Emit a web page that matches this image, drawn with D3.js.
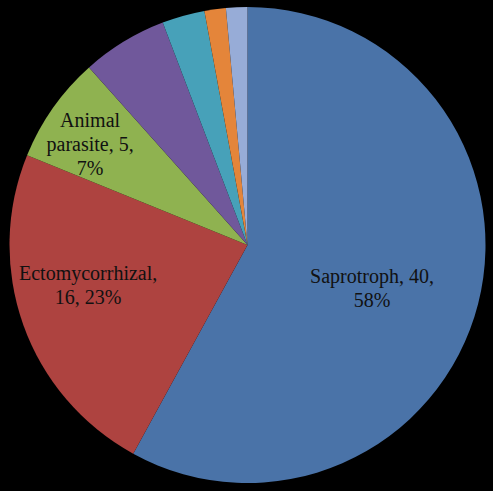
<!DOCTYPE html>
<html>
<head>
<meta charset="utf-8">
<script src="https://cdn.jsdelivr.net/npm/d3@7"></script>
<style>
  html, body { margin: 0; padding: 0; background: #000; }
  svg { display: block; }
</style>
</head>
<body>
<svg id="chart" width="493" height="491"></svg>
<script>
// Fungal trophic modes (counts)
const categories = ["Saprotroph", "Ectomycorrhizal", "Animal parasite", "Plant pathogen", "Lichenized", "Endophyte", "Mycoparasite"];
const values = [40, 16, 5, 4, 2, 1, 1];
const colors = ["#4a73a8", "#ae4340", "#8fb250", "#70589b", "#47a1b9", "#e4853a", "#97acd7"];
// Slice labels: which slices carry text, and how each is broken into lines
const labelLines = [
  ["Saprotroph, 40,", "58%"],
  ["Ectomycorrhizal,", "16, 23%"],
  ["Animal", "parasite, 5,", "7%"],
  null, null, null, null
];

const svg = d3.select("#chart");
const cx = 247.5, cy = 245, r = 238;

const data = categories.map((c, i) => ({ name: c, value: values[i], color: colors[i], lines: labelLines[i] }));

const pie = d3.pie().value(d => d.value).sort(null);
const arcs = pie(data);
const arc = d3.arc().innerRadius(0).outerRadius(r);

const g = svg.append("g").attr("transform", `translate(${cx},${cy})`);

g.selectAll("path.slice")
  .data(arcs)
  .join("path")
  .attr("class", "slice")
  .attr("d", arc)
  .attr("fill", d => d.data.color);

// Label placement: offset from the slice bisector (degrees) and radius fraction
const labelPlace = {
  "Saprotroph":      { dAngle: 4.6,  rf: 0.553 },
  "Ectomycorrhizal": { dAngle: 5.6,  rf: 0.69 },
  "Animal parasite": { dAngle: -2.4, rf: 0.787 }
};
const lineH = 24;

arcs.filter(a => a.data.lines).forEach(a => {
  const p = labelPlace[a.data.name];
  const mid = (a.startAngle + a.endAngle) / 2 + p.dAngle * Math.PI / 180;
  const rr = r * p.rf;
  const x = Math.sin(mid) * rr;
  const y = -Math.cos(mid) * rr;
  const n = a.data.lines.length;
  const t = g.append("text")
    .attr("x", x)
    .attr("y", y - (n - 1) * lineH / 2)
    .attr("text-anchor", "middle")
    .attr("dominant-baseline", "central")
    .attr("font-family", "'Liberation Serif', 'Times New Roman', serif")
    .attr("font-size", 20)
    .attr("fill", "#111");
  a.data.lines.forEach((ln, i) => {
    t.append("tspan").attr("x", x).attr("dy", i === 0 ? 0 : lineH).text(ln);
  });
});
</script>
</body>
</html>
